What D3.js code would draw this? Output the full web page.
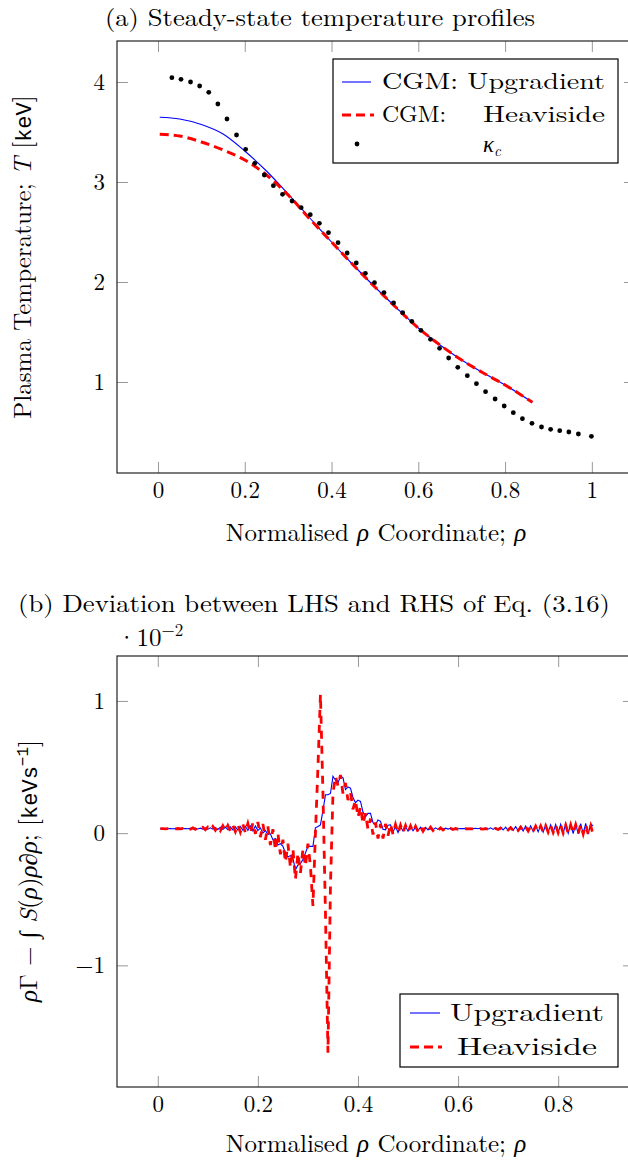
<!DOCTYPE html>
<html>
<head>
<meta charset="utf-8">
<script src="https://cdn.jsdelivr.net/npm/d3@7"></script>
<style>
  body { margin: 0; background: #fff; }
  svg { display: block; }
  text { font-family: "Latin Modern Roman", "CMU Serif", "Liberation Serif", serif; fill: #000; }
  .mono { font-family: "Liberation Mono", "DejaVu Sans Mono", monospace; }
</style>
</head>
<body>
<svg width="628" height="1165"></svg>
<script>
// (a) temperature profiles, T in keV
const rhoLine = [0.004, 0.05, 0.1, 0.15, 0.2, 0.25, 0.3, 0.35, 0.4, 0.45, 0.5, 0.55, 0.6, 0.65, 0.7, 0.75, 0.8, 0.863];
const tempUpgradient = [3.647, 3.63, 3.575, 3.48, 3.31, 3.11, 2.88, 2.64, 2.40, 2.17, 1.95, 1.74, 1.54, 1.37, 1.22, 1.09, 0.97, 0.797];
const tempHeaviside  = [3.477, 3.46, 3.40, 3.32, 3.22, 3.07, 2.87, 2.63, 2.40, 2.17, 1.95, 1.74, 1.54, 1.37, 1.22, 1.09, 0.97, 0.797];

const rhoKappa = [0.032, 0.053, 0.075, 0.096, 0.117, 0.138, 0.159, 0.181, 0.202, 0.223, 0.245, 0.266, 0.287, 0.309, 0.330, 0.351, 0.372, 0.393, 0.415,
  0.436, 0.457, 0.478, 0.499, 0.521, 0.543, 0.564, 0.585, 0.606, 0.628, 0.649, 0.670, 0.691, 0.713, 0.734, 0.755, 0.777, 0.798, 0.819, 0.840,
  0.862, 0.884, 0.905, 0.926, 0.947, 0.969, 0.999];
const tempKappa = [4.043, 4.027, 4.00, 3.96, 3.897, 3.78, 3.63, 3.47, 3.327, 3.187, 3.07, 2.963, 2.877, 2.81, 2.743, 2.673, 2.587, 2.493, 2.393,
  2.29, 2.19, 2.087, 1.993, 1.893, 1.79, 1.693, 1.607, 1.517, 1.427, 1.337, 1.24, 1.147, 1.063, 0.983, 0.903, 0.83, 0.76, 0.693, 0.633,
  0.587, 0.55, 0.527, 0.513, 0.50, 0.48, 0.457];

const ticksA_x = [0, 0.2, 0.4, 0.6, 0.8, 1];
const ticksA_y = [1, 2, 3, 4];

// (b) deviation, in units of 1e-2, on grid rho = 0.005 .. 0.870
const rhoGrid = d3.range(1, 175).map(i => i * 0.005);
const devUpgradient = [
  0.034, 0.033, 0.034, 0.033, 0.034, 0.033, 0.034, 0.033, 0.034, 0.033,
  0.035, 0.033, 0.036, 0.032, 0.037, 0.032, 0.038, 0.031, 0.039, 0.030,
  0.040, 0.030, 0.042, 0.028, 0.044, 0.027, 0.046, 0.026, 0.047, 0.025,
  0.048, 0.024, 0.050, 0.022, 0.052, 0.020, 0.054, 0.018, 0.055, 0.020,
  0.040, 0.000, 0.020, -0.010, -0.005, -0.050, -0.040, -0.090, -0.080, -0.100,
  -0.150, -0.180, -0.170, -0.190, -0.277, -0.240, -0.230, -0.200, -0.150, -0.100,
  -0.100, -0.100, 0.040, 0.050, 0.063, 0.170, 0.290, 0.290, 0.300, 0.430,
  0.400, 0.380, 0.430, 0.420, 0.330, 0.350, 0.340, 0.270, 0.230, 0.250,
  0.240, 0.160, 0.125, 0.150, 0.150, 0.080, 0.063, 0.100, 0.090, 0.030,
  0.025, 0.060, 0.063, 0.010, 0.050, 0.005, 0.050, 0.015, 0.050, 0.015,
  0.048, 0.018, 0.046, 0.020, 0.045, 0.022, 0.044, 0.024, 0.042, 0.026,
  0.040, 0.028, 0.040, 0.030, 0.038, 0.031, 0.037, 0.032, 0.036, 0.033,
  0.035, 0.034, 0.035, 0.034, 0.036, 0.034, 0.037, 0.033, 0.038, 0.033,
  0.039, 0.030, 0.040, 0.028, 0.042, 0.026, 0.044, 0.024, 0.046, 0.022,
  0.048, 0.020, 0.050, 0.018, 0.052, 0.016, 0.054, 0.014, 0.056, 0.012,
  0.058, 0.010, 0.060, 0.008, 0.062, 0.006, 0.064, 0.004, 0.066, 0.002,
  0.068, 0.000, 0.070, -0.002, 0.071, -0.004, 0.072, -0.005, 0.073, -0.006,
  0.074, -0.008, 0.070, 0.055
];
const devHeaviside = [
  0.034, 0.034, 0.033, 0.034, 0.033, 0.034, 0.033, 0.035, 0.032, 0.036,
  0.031, 0.038, 0.030, 0.040, 0.029, 0.042, 0.028, 0.044, 0.026, 0.046,
  0.024, 0.050, 0.022, 0.053, 0.020, 0.056, 0.018, 0.058, 0.016, 0.060,
  0.012, 0.064, 0.008, 0.068, 0.004, 0.072, 0.000, 0.078, -0.005, 0.085,
  -0.030, 0.070, -0.050, 0.050, -0.090, 0.030, -0.130, 0.000, -0.160, -0.050,
  -0.220, -0.080, -0.260, -0.120, -0.350, -0.150, -0.300, -0.120, -0.250, -0.080,
  -0.250, -0.550, 0.000, 0.500, 1.050, 0.300, -0.600, -1.660, -0.400, 0.300,
  0.430, 0.360, 0.440, 0.300, 0.380, 0.250, 0.310, 0.180, 0.250, 0.120,
  0.200, 0.070, 0.150, 0.030, 0.110, -0.010, 0.080, -0.040, 0.070, -0.040,
  0.070, -0.020, 0.070, -0.010, 0.065, 0.000, 0.060, 0.005, 0.058, 0.008,
  0.055, 0.010, 0.052, 0.012, 0.050, 0.015, 0.047, 0.018, 0.045, 0.020,
  0.042, 0.022, 0.040, 0.024, 0.038, 0.026, 0.036, 0.028, 0.035, 0.030,
  0.034, 0.031, 0.034, 0.032, 0.033, 0.032, 0.033, 0.032, 0.033, 0.031,
  0.034, 0.030, 0.035, 0.029, 0.036, 0.028, 0.038, 0.026, 0.040, 0.024,
  0.042, 0.022, 0.044, 0.020, 0.046, 0.018, 0.048, 0.016, 0.050, 0.014,
  0.052, 0.012, 0.054, 0.010, 0.056, 0.008, 0.058, 0.006, 0.059, 0.004,
  0.060, 0.002, 0.061, 0.000, 0.062, -0.002, 0.063, -0.004, 0.064, -0.006,
  0.065, -0.008, 0.055, -0.013
];

const ticksB_x = [0, 0.2, 0.4, 0.6, 0.8];
const ticksB_y = [-1, 0, 1];

const svg = d3.select('svg');
const blue = '#0000ff', red = '#ff0000';
const tickLen = 11;
const fs = 25;

// draws frame, ticks on all four sides (inward) and tick labels
function drawFrame(x, y, xt, yt, fmtY) {
  const [x0, x1] = x.range(), [y0, y1] = y.range();
  const g = svg.append('g');
  g.append('g').attr('transform', `translate(0,${y0})`)
    .call(d3.axisBottom(x).tickValues(xt).tickSize(-tickLen).tickPadding(9).tickFormat(d3.format('')));
  g.append('g').attr('transform', `translate(0,${y1})`)
    .call(d3.axisTop(x).tickValues(xt).tickSize(-tickLen).tickFormat(''));
  g.append('g').attr('transform', `translate(${x0},0)`)
    .call(d3.axisLeft(y).tickValues(yt).tickSize(-tickLen).tickPadding(12).tickFormat(fmtY));
  g.append('g').attr('transform', `translate(${x1},0)`)
    .call(d3.axisRight(y).tickValues(yt).tickSize(-tickLen).tickFormat(''));
  g.selectAll('.domain').remove();
  g.selectAll('.tick line').attr('stroke', '#999').attr('stroke-width', 1);
  g.selectAll('.tick text').style('font-family', '"Latin Modern Roman","CMU Serif","Liberation Serif",serif')
    .style('font-size', '23px').attr('fill', '#000');
  svg.append('rect').attr('x', x0).attr('y', y1).attr('width', x1 - x0).attr('height', y0 - y1)
    .attr('fill', 'none').attr('stroke', '#222').attr('stroke-width', 1.2);
}

function clip(id, x, y) {
  const [x0, x1] = x.range(), [y0, y1] = y.range();
  svg.append('clipPath').attr('id', id).append('rect')
    .attr('x', x0).attr('y', y1).attr('width', x1 - x0).attr('height', y0 - y1);
}

// ---------- (a) ----------
const xA = d3.scaleLinear().domain([-0.0945, 1.0995]).range([117, 635]);
const yA = d3.scaleLinear().domain([0.09, 4.41]).range([473, 41]);

svg.append('text').attr('x', 320).attr('y', 26).attr('text-anchor', 'middle')
  .style('font-size', '24px').attr('textLength', 430).attr('lengthAdjust', 'spacingAndGlyphs')
  .text('(a) Steady-state temperature profiles');

clip('clipA', xA, yA);
const gA = svg.append('g').attr('clip-path', 'url(#clipA)');
const lineA = d3.line().x(d => xA(d[0])).y(d => yA(d[1])).curve(d3.curveMonotoneX);
gA.append('path').datum(d3.zip(rhoLine, tempUpgradient)).attr('d', lineA)
  .attr('fill', 'none').attr('stroke', blue).attr('stroke-width', 1.1);
gA.append('path').datum(d3.zip(rhoLine, tempHeaviside)).attr('d', lineA)
  .attr('fill', 'none').attr('stroke', red).attr('stroke-width', 3).attr('stroke-dasharray', '9,5');
gA.selectAll('circle').data(d3.zip(rhoKappa, tempKappa)).join('circle')
  .attr('cx', d => xA(d[0])).attr('cy', d => yA(d[1])).attr('r', 2.4).attr('fill', '#000');

drawFrame(xA, yA, ticksA_x, ticksA_y, d3.format(''));

// legend (a)
const legA = svg.append('g');
legA.append('rect').attr('x', 333).attr('y', 59).attr('width', 285).attr('height', 104)
  .attr('fill', '#fff').attr('stroke', '#000').attr('stroke-width', 1.2);
legA.append('line').attr('x1', 342).attr('x2', 371).attr('y1', 82).attr('y2', 82).attr('stroke', blue).attr('stroke-width', 1.1);
legA.append('line').attr('x1', 342).attr('x2', 374).attr('y1', 115).attr('y2', 115).attr('stroke', red)
  .attr('stroke-width', 3).attr('stroke-dasharray', '9,5');
legA.append('circle').attr('cx', 357).attr('cy', 144).attr('r', 2.4).attr('fill', '#000');
legA.append('text').attr('x', 382).attr('y', 89).style('font-size', '23px')
  .attr('textLength', 223).attr('lengthAdjust', 'spacingAndGlyphs').text('CGM: Upgradient');
legA.append('text').attr('x', 382).attr('y', 122).style('font-size', '23px')
  .attr('textLength', 64).attr('lengthAdjust', 'spacingAndGlyphs').text('CGM:');
legA.append('text').attr('x', 605).attr('y', 122).attr('text-anchor', 'end').style('font-size', '23px')
  .attr('textLength', 122).attr('lengthAdjust', 'spacingAndGlyphs').text('Heaviside');
const kap = legA.append('text').attr('x', 492).attr('y', 152).attr('text-anchor', 'middle').style('font-size', '23px');
kap.append('tspan').style('font-style', 'italic').text('κ');
kap.append('tspan').attr('dy', 4).style('font-size', '15px').style('font-style', 'italic').text('c');

// axis labels (a)
const xlabA = svg.append('text').attr('x', 376).attr('y', 541).attr('text-anchor', 'middle').style('font-size', fs + 'px');
xlabA.append('tspan').text('Normalised ');
xlabA.append('tspan').style('font-style', 'italic').text('ρ');
xlabA.append('tspan').text(' Coordinate; ');
xlabA.append('tspan').style('font-style', 'italic').text('ρ');

const ylabA = svg.append('text').attr('transform', 'translate(31,257) rotate(-90)')
  .attr('text-anchor', 'middle').style('font-size', fs + 'px');
ylabA.append('tspan').text('Plasma Temperature; ');
ylabA.append('tspan').style('font-style', 'italic').text('T');
ylabA.append('tspan').text(' [');
ylabA.append('tspan').attr('class', 'mono').style('font-size', '22px').text('keV');
ylabA.append('tspan').text(']');

// ---------- (b) ----------
const xB = d3.scaleLinear().domain([-0.0815, 0.9515]).range([117, 634]);
const yB = d3.scaleLinear().domain([-1.92, 1.34]).range([1087, 656]);

svg.append('text').attr('x', 314).attr('y', 612).attr('text-anchor', 'middle')
  .style('font-size', '24px').attr('textLength', 592).attr('lengthAdjust', 'spacingAndGlyphs')
  .text('(b) Deviation between LHS and RHS of Eq. (3.16)');

const mult = svg.append('text').attr('x', 117).attr('y', 646).style('font-size', fs + 'px');
mult.append('tspan').text('·10');
mult.append('tspan').attr('dy', -10).style('font-size', '17px').text('−2');

clip('clipB', xB, yB);
const gB = svg.append('g').attr('clip-path', 'url(#clipB)');
const lineB = d3.line().x(d => xB(d[0])).y(d => yB(d[1]));
gB.append('path').datum(d3.zip(rhoGrid, devUpgradient)).attr('d', lineB)
  .attr('fill', 'none').attr('stroke', blue).attr('stroke-width', 1.1);
gB.append('path').datum(d3.zip(rhoGrid, devHeaviside)).attr('d', lineB)
  .attr('fill', 'none').attr('stroke', red).attr('stroke-width', 2.8).attr('stroke-dasharray', '8,7');

drawFrame(xB, yB, ticksB_x, ticksB_y, d => d3.format('')(d).replace('-', '−'));

// legend (b)
const legB = svg.append('g');
legB.append('rect').attr('x', 400).attr('y', 994).attr('width', 218).attr('height', 73)
  .attr('fill', '#fff').attr('stroke', '#000').attr('stroke-width', 1.2);
legB.append('line').attr('x1', 410).attr('x2', 440).attr('y1', 1013).attr('y2', 1013).attr('stroke', blue).attr('stroke-width', 1.1);
legB.append('line').attr('x1', 410).attr('x2', 442).attr('y1', 1047).attr('y2', 1047).attr('stroke', red)
  .attr('stroke-width', 3).attr('stroke-dasharray', '9,5');
legB.append('text').attr('x', 527).attr('y', 1021).attr('text-anchor', 'middle').style('font-size', '24px')
  .attr('textLength', 154).attr('lengthAdjust', 'spacingAndGlyphs').text('Upgradient');
legB.append('text').attr('x', 527).attr('y', 1055).attr('text-anchor', 'middle').style('font-size', '24px')
  .attr('textLength', 140).attr('lengthAdjust', 'spacingAndGlyphs').text('Heaviside');

// axis labels (b)
const xlabB = svg.append('text').attr('x', 376).attr('y', 1152).attr('text-anchor', 'middle').style('font-size', fs + 'px');
xlabB.append('tspan').text('Normalised ');
xlabB.append('tspan').style('font-style', 'italic').text('ρ');
xlabB.append('tspan').text(' Coordinate; ');
xlabB.append('tspan').style('font-style', 'italic').text('ρ');

const ylabB = svg.append('text').attr('transform', 'translate(37,871) rotate(-90)')
  .attr('text-anchor', 'middle').style('font-size', fs + 'px');
ylabB.append('tspan').style('font-style', 'italic').text('ρ');
ylabB.append('tspan').text('Γ − ∫ ');
ylabB.append('tspan').style('font-style', 'italic').text('S');
ylabB.append('tspan').text('(');
ylabB.append('tspan').style('font-style', 'italic').text('ρ');
ylabB.append('tspan').text(')');
ylabB.append('tspan').style('font-style', 'italic').text('ρ');
ylabB.append('tspan').text('∂');
ylabB.append('tspan').style('font-style', 'italic').text('ρ');
ylabB.append('tspan').text('; [');
ylabB.append('tspan').attr('class', 'mono').style('font-size', '22px').text('keVs');
ylabB.append('tspan').attr('class', 'mono').attr('dy', -9).style('font-size', '16px').text('−1');
ylabB.append('tspan').attr('dy', 9).text(']');
</script>
</body>
</html>
